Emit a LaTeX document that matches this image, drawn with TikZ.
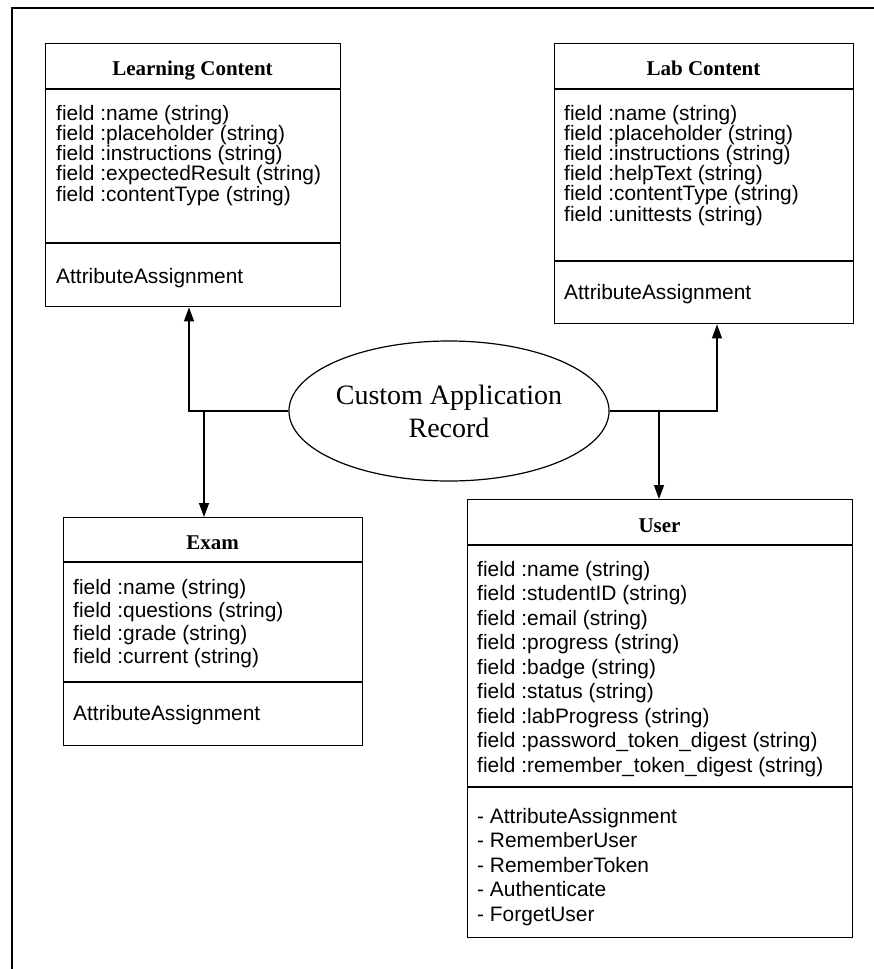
\documentclass[tikz,border=0pt]{standalone}
\usepackage{fontspec}
\usetikzlibrary{arrows.meta,shapes.geometric}
\newfontfamily\fieldfont{Liberation Sans}
\newfontfamily\headfont{Liberation Serif}

\tikzset{
  classbox/.style={draw, line width=1.4pt, inner sep=0pt, anchor=north west},
  divider/.style={line width=1.4pt},
  fieldtext/.style={font=\fieldfont\fontsize{20.9}{24}\selectfont, anchor=base west, inner sep=0pt},
  classtitle/.style={font=\headfont\bfseries\fontsize{21}{24}\selectfont, anchor=base, inner sep=0pt},
  recordshape/.style={draw, ellipse, line width=1.2pt, minimum width=316pt, minimum height=140pt,
    inner sep=0pt, align=center, font=\headfont\fontsize{28}{33}\selectfont},
  link/.style={line width=1.3pt},
  linkarrow/.style={link, -{Triangle[length=14pt,width=10pt]}},
  frameline/.style={line width=1.5pt}
}

\begin{document}
\begin{tikzpicture}[x=1pt,y=-1pt]
\useasboundingbox (0,0) rectangle (874,969);

% outer frame (left and top edges)
\draw[frameline] (12,969) -- (12,8) -- (874,8);

% ---------- Learning Content ----------
\node[classbox, minimum width=295pt, minimum height=263pt] (lc) at (45,43) {};
\draw[divider] (lc.west |- 0,89) -- (lc.east |- 0,89);
\draw[divider] (lc.west |- 0,243) -- (lc.east |- 0,243);
\node[classtitle] (lct) at (192.5,75) {Learning Content};
\foreach \t [count=\i from 0] in {field :name (string), field :placeholder (string),
    field :instructions (string), field :expectedResult (string), field :contentType (string)}
  \node[fieldtext] (lcf\i) at (56,120+20.25*\i) {\t};
\node[fieldtext] (lcm) at (56,283) {AttributeAssignment};

% ---------- Lab Content ----------
\node[classbox, minimum width=299pt, minimum height=280pt] (lab) at (554,43) {};
\draw[divider] (lab.west |- 0,89) -- (lab.east |- 0,89);
\draw[divider] (lab.west |- 0,261) -- (lab.east |- 0,261);
\node[classtitle] (labt) at (703.5,75) {Lab Content};
\foreach \t [count=\i from 0] in {field :name (string), field :placeholder (string),
    field :instructions (string), field :helpText (string), field :contentType (string),
    field :unittests (string)}
  \node[fieldtext] (labf\i) at (564,120+20.2*\i) {\t};
\node[fieldtext] (labm) at (564,299) {AttributeAssignment};

% ---------- Exam ----------
\node[classbox, minimum width=299pt, minimum height=228pt] (ex) at (63,517) {};
\draw[divider] (ex.west |- 0,562) -- (ex.east |- 0,562);
\draw[divider] (ex.west |- 0,682) -- (ex.east |- 0,682);
\node[classtitle] (ext) at (212.5,549) {Exam};
\foreach \t [count=\i from 0] in {field :name (string), field :questions (string),
    field :grade (string), field :current (string)}
  \node[fieldtext] (exf\i) at (73,594+23.3*\i) {\t};
\node[fieldtext] (exm) at (73,720) {AttributeAssignment};

% ---------- User ----------
\node[classbox, minimum width=385pt, minimum height=438pt] (us) at (467,499) {};
\draw[divider] (us.west |- 0,545) -- (us.east |- 0,545);
\draw[divider] (us.west |- 0,787) -- (us.east |- 0,787);
\node[classtitle] (ust) at (659.5,532) {User};
\foreach \t [count=\i from 0] in {field :name (string), field :studentID (string),
    field :email (string), field :progress (string), field :badge (string),
    field :status (string), field :labProgress (string),
    field :password\_token\_digest (string), field :remember\_token\_digest (string)}
  \node[fieldtext] (usf\i) at (477,576+24.5*\i) {\t};
\foreach \t [count=\i from 0] in {- AttributeAssignment, - RememberUser,
    - RememberToken, - Authenticate, - ForgetUser}
  \node[fieldtext] (usm\i) at (477,823+24.5*\i) {\t};

% ---------- central record ----------
\node[recordshape] (cr) at (449,411) {Custom Application\\Record};

% ---------- connectors ----------
\coordinate (jl) at (189,411);
\coordinate (je) at (204,411);
\coordinate (jr) at (717,411);
\coordinate (ju) at (659,411);
\draw[linkarrow] (cr.west) -- (jl) -- (jl |- lc.south);
\draw[linkarrow] (je) -- (je |- ex.north);
\draw[linkarrow] (cr.east) -- (jr) -- (jr |- lab.south);
\draw[linkarrow] (ju) -- (ju |- us.north);
\end{tikzpicture}
\end{document}
